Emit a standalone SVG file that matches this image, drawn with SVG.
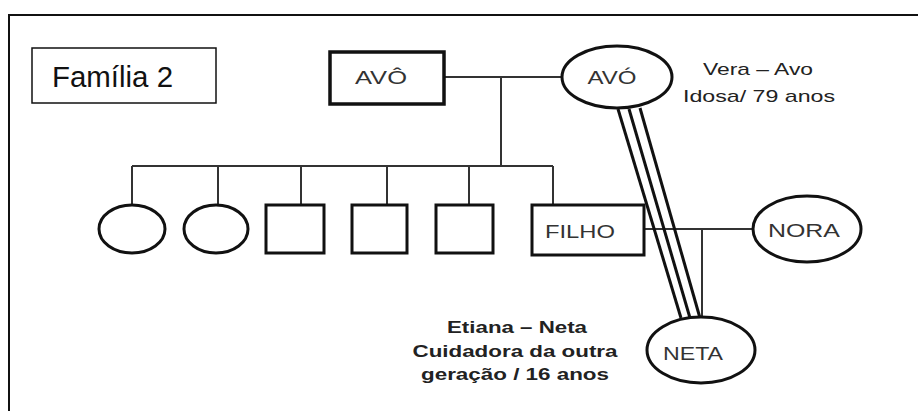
<svg xmlns="http://www.w3.org/2000/svg" width="918" height="411" viewBox="0 0 918 411">
<style>
.frame{fill:none;stroke:#111;stroke-width:2}
.thin{fill:#fff;stroke:#111;stroke-width:1.5}
.node{fill:#fff;stroke:#111;stroke-width:3}
.con{fill:none;stroke:#333;stroke-width:2}
.tri{fill:none;stroke:#111;stroke-width:3}
.lbl{font-family:"Liberation Sans",Arial,sans-serif;font-size:18px;fill:#333;text-anchor:middle}
.note{font-family:"Liberation Sans",Arial,sans-serif;font-size:17px;fill:#222;text-anchor:middle}
</style>
<rect x="0" y="0" width="918" height="411" fill="#fff"/>
<rect class="frame" x="9" y="15" width="920" height="410"/>
<g id="titulo">
<rect class="thin" x="32" y="48" width="184" height="55"/>
<text x="52" y="87" font-family="Liberation Sans, Arial, sans-serif" font-size="29" fill="#111" textLength="121" lengthAdjust="spacingAndGlyphs">Família 2</text>
</g>
<g id="connectors">
<line class="con" x1="444" y1="77" x2="562" y2="77"/>
<line class="con" x1="501" y1="77" x2="501" y2="166"/>
<line class="con" x1="132" y1="166" x2="553" y2="166"/>
<line class="con" x1="132" y1="166" x2="132" y2="205"/>
<line class="con" x1="218" y1="166" x2="218" y2="205"/>
<line class="con" x1="301" y1="166" x2="301" y2="205"/>
<line class="con" x1="387" y1="166" x2="387" y2="205"/>
<line class="con" x1="469" y1="166" x2="469" y2="205"/>
<line class="con" x1="553" y1="166" x2="553" y2="205"/>
<line class="con" x1="644" y1="229" x2="753" y2="229"/>
<line class="con" x1="702" y1="229" x2="702" y2="318"/>
<line class="tri" x1="618" y1="109" x2="681" y2="318"/>
<line class="tri" x1="629" y1="109" x2="690" y2="318"/>
<line class="tri" x1="640" y1="108" x2="700" y2="318"/>
</g>
<g id="avo-m">
<rect x="330" y="52" width="114" height="52" fill="#fff" stroke="#111" stroke-width="3.5"/>
<text class="lbl" x="381" y="84" font-size="17" textLength="52" lengthAdjust="spacingAndGlyphs">AVÔ</text>
</g>
<g id="avo-f">
<ellipse class="node" cx="617" cy="77" rx="55" ry="31"/>
<text class="lbl" x="612" y="84" font-size="17" textLength="49" lengthAdjust="spacingAndGlyphs">AVÓ</text>
</g>
<g id="filha1"><ellipse class="node" cx="132" cy="229" rx="33" ry="24"/></g>
<g id="filha2"><ellipse class="node" cx="216" cy="229" rx="32" ry="24"/></g>
<g id="filho1"><rect class="node" x="266" y="205" width="58" height="48"/></g>
<g id="filho2"><rect class="node" x="352" y="205" width="55" height="48"/></g>
<g id="filho3"><rect class="node" x="436" y="205" width="57" height="48"/></g>
<g id="filho">
<rect class="node" x="532" y="205" width="112" height="50"/>
<text class="lbl" x="580" y="238" textLength="70" lengthAdjust="spacingAndGlyphs">FILHO</text>
</g>
<g id="nora">
<ellipse class="node" cx="807" cy="229" rx="54" ry="33"/>
<text class="lbl" x="804" y="237" textLength="72" lengthAdjust="spacingAndGlyphs">NORA</text>
</g>
<g id="neta">
<ellipse class="node" cx="701" cy="350" rx="54" ry="33"/>
<text class="lbl" x="693" y="360" textLength="60" lengthAdjust="spacingAndGlyphs">NETA</text>
</g>
<g id="nota-vera">
<text class="note" x="758" y="75" textLength="110" lengthAdjust="spacingAndGlyphs">Vera – Avo</text>
<text class="note" x="759" y="102" textLength="152" lengthAdjust="spacingAndGlyphs">Idosa/ 79 anos</text>
</g>
<g id="nota-etiana" font-weight="bold">
<text class="note" x="517" y="333" textLength="140" lengthAdjust="spacingAndGlyphs">Etiana – Neta</text>
<text class="note" x="515" y="357" textLength="205" lengthAdjust="spacingAndGlyphs">Cuidadora da outra</text>
<text class="note" x="515" y="380" textLength="188" lengthAdjust="spacingAndGlyphs">geração / 16 anos</text>
</g>
</svg>
